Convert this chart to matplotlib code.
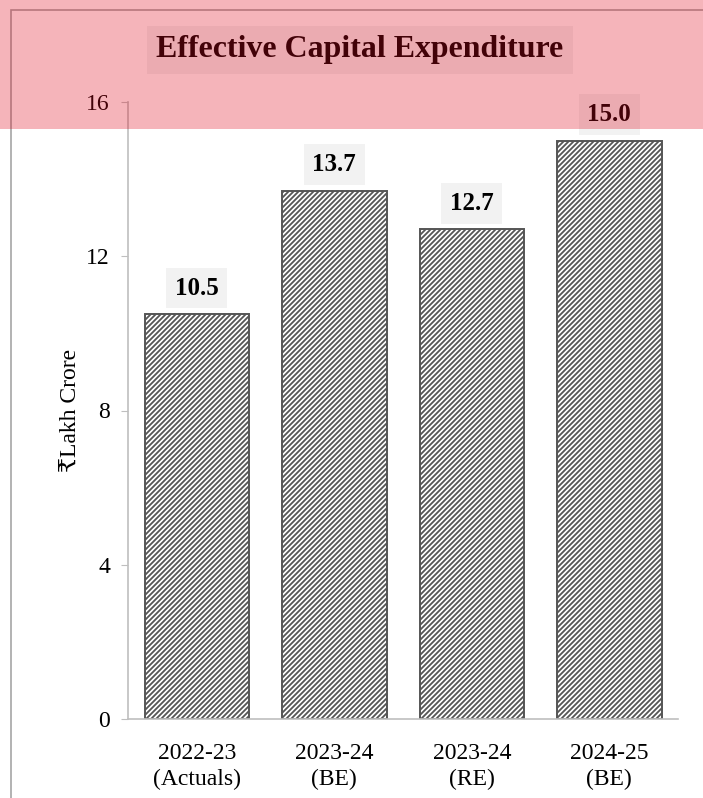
import matplotlib
matplotlib.use("Agg")
import matplotlib.pyplot as plt
from matplotlib.patches import Rectangle

categories = ["2022-23\n(Actuals)", "2023-24\n(BE)", "2023-24\n(RE)", "2024-25\n(BE)"]
values = [10.5, 13.7, 12.7, 15.0]
yticks = [0, 4, 8, 12, 16]

# dpi 90 so the hatch tile (1 inch) holds a whole number of 5px stripes
DPI = 90
S = 100 / DPI  # keep sizes as they were tuned at 100 dpi

plt.rcParams['font.family'] = ['Liberation Serif', 'DejaVu Serif']
plt.rcParams['hatch.color'] = '#6a6a6a'
plt.rcParams['hatch.linewidth'] = 1.3 * S

W, H = 703, 798
fig = plt.figure(figsize=(W / DPI, H / DPI), dpi=DPI)
ax = fig.add_axes([128 / W, 79 / H, 550 / W, 617 / H])
ax.set_facecolor('none')

x = list(range(len(categories)))
ax.bar(x, values, width=0.76, color='white', edgecolor='#555555',
       linewidth=1.4 * S, hatch='//////', zorder=2)

for xi, v in zip(x, values):
    ax.annotate(f"{v:.1f}", (xi, v), xytext=(0, 26), textcoords='offset pixels',
                ha='center', va='center', fontsize=18 * S, fontweight='bold',
                bbox=dict(boxstyle='square,pad=0.35', fc='#f2f2f2', ec='none'))

ax.set_xlim(-0.5, 3.5)
ax.set_ylim(0, 16)
ax.set_yticks(yticks)
ax.set_xticks(x)
ax.set_xticklabels(categories, fontsize=17 * S, linespacing=1.3)
ax.tick_params(axis='y', labelsize=17 * S, length=5 * S, width=0.8 * S,
               color='#bfbfbf', pad=8 * S)
ax.tick_params(axis='x', length=0, pad=17 * S)
for s in ['top', 'right']:
    ax.spines[s].set_visible(False)
for s in ['left', 'bottom']:
    ax.spines[s].set_color('#bfbfbf')
    ax.spines[s].set_linewidth(1.2 * S)
ax.set_ylabel("₹Lakh Crore", fontsize=17 * S)
ax.yaxis.set_label_coords(-0.086, 0.5)

# outer chart border
fig.patches.append(Rectangle((11 / W, -0.1), 1.2, (H - 10) / H + 0.1,
                             transform=fig.transFigure, fill=False,
                             ec='#a6a6a6', lw=1.2 * S, zorder=0))

fig.text(360 / W, (H - 50) / H, "Effective Capital Expenditure", ha='center',
         va='center', fontsize=23 * S, fontweight='bold',
         bbox=dict(boxstyle='square,pad=0.3', fc='#f2f2f2', ec='none'))

# pink watermark band across the top
fig.patches.append(Rectangle((0, (H - 129) / H), 1, 129 / H,
                             transform=fig.transFigure, fc=(222 / 255, 8 / 255, 28 / 255),
                             alpha=0.3, ec='none', zorder=10))

fig.savefig("out.png", dpi=DPI)
